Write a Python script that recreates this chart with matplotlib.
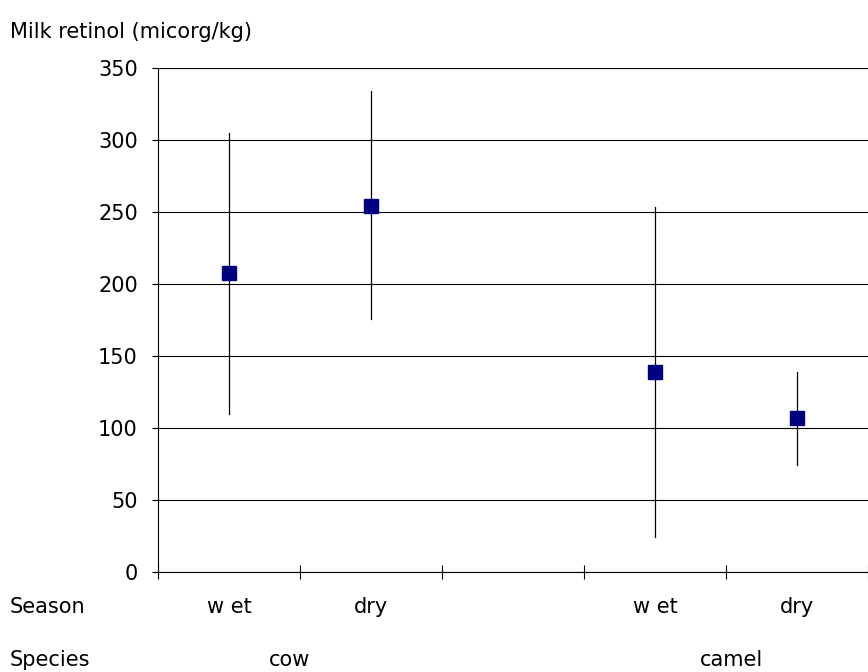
import matplotlib.pyplot as plt
import matplotlib.transforms as mtrans

plt.rcParams['font.family'] = ['DejaVu Sans']

# data
species = ["cow", "camel"]
species_pos = [0.93, 4.04]
seasons = ["w et", "dry", "w et", "dry"]
positions = [0.5, 1.5, 3.5, 4.5]   # slot 2 is an empty gap
retinol = [208, 254.5, 139, 107]
err_low = [109.5, 175.5, 24, 74]
err_high = [305, 334, 253.5, 138.5]

W, H = 868, 672
fig = plt.figure(figsize=(W / 100, H / 100), dpi=100)
ax = fig.add_axes([158 / W, (H - 571.7) / H, 1 - 158 / W, 503.4 / H])

# plot area runs past the right edge of the picture
ax.set_xlim(0, (W - 158) / 144.1)
ax.set_ylim(0, 350)

# horizontal gridlines
ax.set_yticks(range(0, 351, 50))
ax.yaxis.grid(True, color='black', linewidth=0.8)
ax.set_axisbelow(True)

# error bars (no caps) then the squares
for x, lo, hi in zip(positions, err_low, err_high):
    ax.plot([x, x], [lo, hi], color='black', linewidth=0.9, zorder=3)
ax.plot(positions, retinol, linestyle='none', marker='s', markersize=9.6,
        markerfacecolor='#000080', markeredgecolor='#000080', zorder=4)

ax.set_xticks(range(0, 6))
ax.set_xticklabels([])
ax.tick_params(axis='x', direction='inout', length=10, width=0.8, color='black')
ax.tick_params(axis='y', direction='out', length=4.5, width=0.8, color='black',
               labelsize=15, pad=10)

for s in ['top', 'right']:
    ax.spines[s].set_visible(False)
for s in ['left', 'bottom']:
    ax.spines[s].set_linewidth(0.8)
    ax.spines[s].set_color('black')

# category labels under the axis
tr = mtrans.blended_transform_factory(ax.transData, fig.transFigure)
for x, lab in zip(positions, seasons):
    ax.text(x, 1 - 613 / H, lab, transform=tr, ha='center', va='baseline',
            fontsize=15, clip_on=False)
for x, lab in zip(species_pos, species):
    ax.text(x, 1 - 666 / H, lab, transform=tr, ha='center', va='baseline',
            fontsize=15, clip_on=False)

fig.text(10 / W, 1 - 613 / H, "Season", ha='left', va='baseline', fontsize=15)
fig.text(10 / W, 1 - 666 / H, "Species", ha='left', va='baseline', fontsize=15)
fig.text(10 / W, 1 - 38 / H, "Milk retinol (micorg/kg)", ha='left',
         va='baseline', fontsize=15)

fig.savefig("out.png", dpi=100)
